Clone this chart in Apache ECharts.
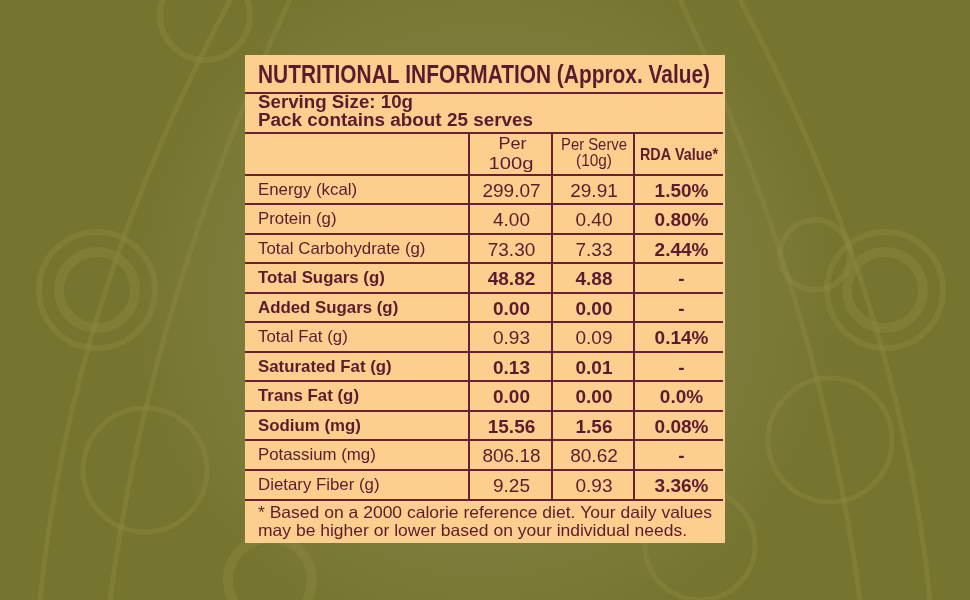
<!DOCTYPE html>
<html><head><meta charset="utf-8">
<script src="https://cdn.jsdelivr.net/npm/echarts@6/dist/echarts.min.js"></script>
<style>html,body{margin:0;padding:0;background:#7a7a3a}#c{width:970px;height:600px}</style>
</head><body><div id="c"></div>
<script>
// ---- data ----
const titleText = 'NUTRITIONAL INFORMATION (Approx. Value)';
const servingLines = ['Serving Size: 10g', 'Pack contains about 25 serves'];
const colHeaders = [['Per', '100g'], ['Per Serve', '(10g)'], ['RDA Value*']];
const nutrients = ['Energy (kcal)', 'Protein (g)', 'Total Carbohydrate (g)', 'Total Sugars (g)', 'Added Sugars (g)', 'Total Fat (g)', 'Saturated Fat (g)', 'Trans Fat (g)', 'Sodium (mg)', 'Potassium (mg)', 'Dietary Fiber (g)'];
const per100g = [299.07, 4.00, 73.30, 48.82, 0.00, 0.93, 0.13, 0.00, 15.56, 806.18, 9.25];
const perServe = [29.91, 0.40, 7.33, 4.88, 0.00, 0.09, 0.01, 0.00, 1.56, 80.62, 0.93];
const rdaValues = ['1.50%', '0.80%', '2.44%', '-', '-', '0.14%', '-', '0.0%', '0.08%', '-', '3.36%'];
const boldRows = [false, false, false, true, true, false, true, true, true, false, false];
const footnoteLines = ['* Based on a 2000 calorie reference diet. Your daily values', 'may be higher or lower based on your individual needs.'];

// ---- layout (table units = px inside the card) ----
const CARD_W = 480, CARD_H = 488;
const colEdges = [0, 224, 307, 389, 478];
const rowEdges = [120, 149, 179, 208, 238, 267, 297, 326, 356, 385, 415, 445];
const titleLine = 38, servingLine = 78;
const INK = '#5c1a2e', LINE = '#6a1f36', CARD = '#fdcf8e';
const SANS = "'Liberation Sans', Arial, sans-serif";

const mctx = document.createElement('canvas').getContext('2d');
function measure(s, size, weight) {
  mctx.font = (weight || 'normal') + ' ' + size + 'px ' + SANS;
  return mctx.measureText(s).width;
}

const chart = echarts.init(document.getElementById('c'));

function hLine(api, y, x0, x1) {
  const a = api.coord([x0, y]), b = api.coord([x1, y]);
  return {type: 'line', shape: {x1: a[0], y1: a[1], x2: b[0], y2: b[1]}, style: {stroke: LINE, lineWidth: 2}};
}
function vLine(api, x, y0, y1) {
  const a = api.coord([x, y0]), b = api.coord([x, y1]);
  return {type: 'line', shape: {x1: a[0], y1: a[1], x2: b[0], y2: b[1]}, style: {stroke: LINE, lineWidth: 2}};
}
// text; opt.width => stretch/condense to that width; opt.sx => fixed horizontal scale
function txt(api, s, x, y, opt) {
  opt = opt || {};
  const p = api.coord([x, y]);
  const size = opt.size || 16, weight = opt.weight || 'normal';
  let sx = opt.sx || 1;
  if (opt.width) sx = opt.width / measure(s, size, weight);
  return {type: 'text', x: p[0], y: p[1], scaleX: sx,
    style: {text: s, fill: INK, fontFamily: SANS, fontSize: size, fontWeight: weight, align: opt.align || 'left', verticalAlign: 'middle'}};
}

// frame: card, title, serving lines, header, grid lines, footnote
function renderFrame(params, api) {
  const tl = api.coord([0, 0]), br = api.coord([CARD_W, CARD_H]);
  const ch = [];
  ch.push({type: 'rect', shape: {x: tl[0], y: tl[1], width: br[0] - tl[0], height: br[1] - tl[1]}, style: {fill: CARD}});
  ch.push(txt(api, titleText, 13, 20.5, {weight: 'bold', size: 25.5, width: 452}));
  ch.push(hLine(api, titleLine, 0, 478));
  ch.push(txt(api, servingLines[0], 13, 48.5, {weight: 'bold', size: 18, width: 155}));
  ch.push(txt(api, servingLines[1], 13, 66.5, {weight: 'bold', size: 18, width: 275}));
  ch.push(hLine(api, servingLine, 0, 478));
  // column headers
  const cx = k => (colEdges[k] + colEdges[k + 1]) / 2;
  ch.push(txt(api, colHeaders[0][0], cx(1) + 2, 90, {align: 'center', size: 16, width: 28}));
  ch.push(txt(api, colHeaders[0][1], cx(1) + 0.5, 109, {align: 'center', size: 17, width: 45}));
  ch.push(txt(api, colHeaders[1][0], cx(2) + 1, 90.5, {align: 'center', size: 16, width: 66}));
  ch.push(txt(api, colHeaders[1][1], cx(2) + 1, 107, {align: 'center', size: 16, width: 36}));
  ch.push(txt(api, colHeaders[2][0], cx(3) + 0.5, 100.5, {align: 'center', size: 16.5, weight: 'bold', width: 78}));
  for (let k = 1; k < 4; k++) ch.push(vLine(api, colEdges[k], servingLine, rowEdges[rowEdges.length - 1]));
  ch.push(hLine(api, rowEdges[0], 0, 478));
  ch.push(txt(api, footnoteLines[0], 13, 458.5, {size: 16.5, width: 454}));
  ch.push(txt(api, footnoteLines[1], 13, 476, {size: 16.5, width: 429}));
  return {type: 'group', children: ch};
}

// one data item per nutrient row
function renderRow(params, api) {
  const i = api.value(0);
  const y0 = rowEdges[i], y1 = rowEdges[i + 1];
  const ym = (y0 + y1) / 2;
  const w = boldRows[i] ? 'bold' : 'normal';
  const cx = k => (colEdges[k] + colEdges[k + 1]) / 2;
  const ch = [];
  ch.push(txt(api, nutrients[i], 13, ym + 0.5, {size: 16.5, weight: w, sx: 1.02}));
  ch.push(txt(api, api.value(1).toFixed(2), cx(1) + 1, ym + 2, {align: 'center', size: 19, weight: w}));
  ch.push(txt(api, api.value(2).toFixed(2), cx(2) + 1, ym + 2, {align: 'center', size: 19, weight: w}));
  ch.push(txt(api, rdaValues[i], cx(3) + 3, ym + 2, {align: 'center', size: 19, weight: 'bold'}));
  ch.push(hLine(api, y1, 0, 478));
  return {type: 'group', children: ch};
}

// faint decorative background rings and bands
const decoStroke = 'rgba(145,143,70,0.32)';
const deco = [];
[[97, 290, 38, 10], [97, 290, 58, 6], [885, 290, 38, 10], [885, 290, 58, 6], [270, 580, 42, 10], [815, 255, 35, 6], [145, 470, 62, 5], [830, 440, 62, 5], [205, 15, 45, 6], [700, 545, 55, 5]].forEach(([x, y, r, lw]) => {
  deco.push({type: 'circle', shape: {cx: x, cy: y, r: r}, style: {fill: 'none', stroke: decoStroke, lineWidth: lw}, silent: true, z: -10});
});
[[40, 600, 70, 230, 0], [110, 600, 150, 290, 0], [930, 600, 900, 740, 0], [860, 600, 820, 680, 0]].forEach(([x1, y1, cpx, x2, y2]) => {
  deco.push({type: 'bezierCurve', shape: {x1: x1, y1: y1, cpx1: cpx, cpy1: 300, x2: x2, y2: y2}, style: {fill: 'none', stroke: decoStroke, lineWidth: 5}, silent: true, z: -10});
});

chart.setOption({
  backgroundColor: {type: 'radial', x: 0.5, y: 0.5, r: 0.6, colorStops: [{offset: 0, color: '#8b8a52'}, {offset: 1, color: '#76752f'}]},
  animation: false,
  graphic: deco,
  grid: {left: 245, top: 55, width: CARD_W, height: CARD_H},
  xAxis: {type: 'value', min: 0, max: CARD_W, show: false},
  yAxis: {type: 'value', min: 0, max: CARD_H, inverse: true, show: false},
  series: [
    {type: 'custom', renderItem: renderFrame, data: [[0]], z: 1, silent: true},
    {type: 'custom', renderItem: renderRow, data: nutrients.map((n, i) => [i, per100g[i], perServe[i]]), z: 2, silent: true}
  ]
});
</script></body></html>
